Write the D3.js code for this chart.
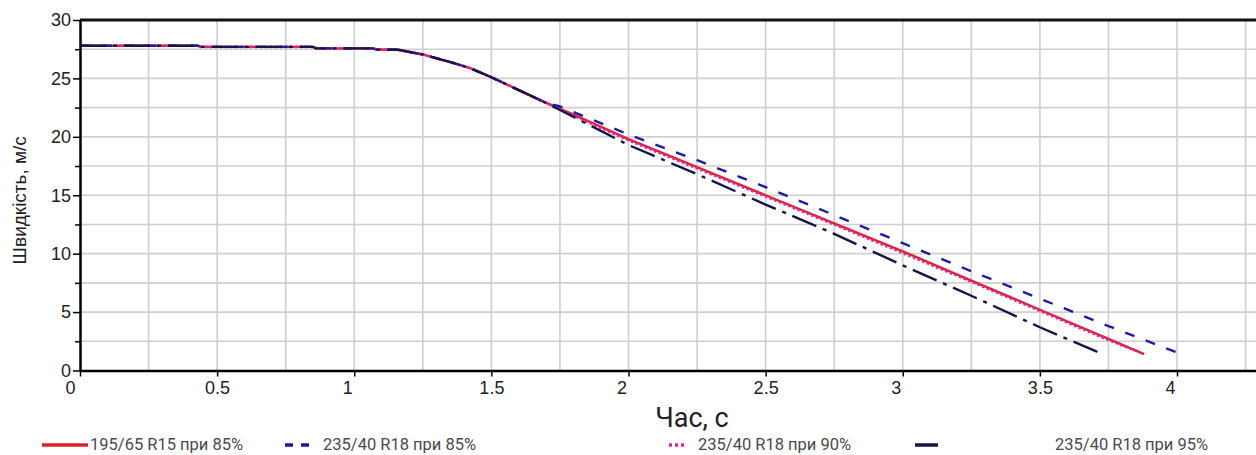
<!DOCTYPE html>
<html>
<head>
<meta charset="utf-8">
<script src="https://cdn.jsdelivr.net/npm/d3@7"></script>
<style>
	body { margin: 0; background: #fff; }
	svg { display: block; }
</style>
</head>
<body>
<div id="chart"></div>
<script>
// speed vs time while braking, one array per tyre / load case
let seriesNames = ["195/65 R15 при 85%", "235/40 R18 при 85%", "235/40 R18 при 90%", "235/40 R18 при 95%"]

// common part before the curves split (t, v)
let startT = [0, 0.43, 0.44, 0.85, 0.86, 1.07, 1.08, 1.16, 1.25, 1.35, 1.42, 1.5, 1.6, 1.7]
let startV = [27.8, 27.8, 27.7, 27.7, 27.57, 27.57, 27.47, 27.45, 27.05, 26.4, 25.9, 25.1, 24.0, 22.9]

let r15_85_t = [1.8, 2.0, 2.25, 2.5, 2.75, 3.0, 3.25, 3.5, 3.75, 3.88]
let r15_85_v = [21.9, 19.8, 17.4, 15.0, 12.6, 10.2, 7.7, 5.2, 2.7, 1.4]

let r18_85_t = [1.75, 2.0, 2.25, 2.5, 2.75, 3.0, 3.25, 3.5, 3.75, 4.01]
let r18_85_v = [22.6, 20.2, 18.0, 15.7, 13.3, 10.9, 8.5, 6.15, 3.8, 1.45]

let r18_90_t = [1.8, 2.0, 2.25, 2.5, 2.75, 3.0, 3.25, 3.5, 3.75, 3.86]
let r18_90_v = [21.8, 19.7, 17.3, 14.9, 12.5, 10.05, 7.6, 5.1, 2.6, 1.6]

let r18_95_t = [1.75, 2.0, 2.25, 2.5, 2.75, 3.0, 3.25, 3.5, 3.73]
let r18_95_v = [22.3, 19.3, 16.8, 14.2, 11.7, 9.0, 6.4, 3.7, 1.4]

let xTicks = [0, 0.5, 1, 1.5, 2, 2.5, 3, 3.5, 4]
let yTicks = d3.range(0, 30.1, 2.5)

function points(t, v)
{
	let p = []
	for (let i = 0; i < startT.length; ++i) p.push([startT[i], startV[i]])
	for (let i = 0; i < t.length; ++i) p.push([t[i], v[i]])
	return p
}

let width = 1256
let height = 455
let mLeft = 80, mTop = 20, mRight = 1256, mBottom = 370.5

let svg = d3.select("#chart").append("svg")
	.attr("width", width)
	.attr("height", height)

let x = d3.scaleLinear().domain([0, 4.288]).range([mLeft, mRight])
let y = d3.scaleLinear().domain([0, 30]).range([mBottom, mTop])

// grid
let gx = d3.range(0.25, 4.26, 0.25)
let gy = d3.range(2.5, 30, 2.5)
svg.append("g").selectAll("line").data(gx).join("line")
	.attr("x1", d => x(d)).attr("x2", d => x(d))
	.attr("y1", mTop).attr("y2", mBottom)
	.attr("stroke", "#cfcfcf").attr("stroke-width", 1.6)
svg.append("g").selectAll("line").data(gy).join("line")
	.attr("x1", mLeft).attr("x2", mRight)
	.attr("y1", d => y(d)).attr("y2", d => y(d))
	.attr("stroke", "#cfcfcf").attr("stroke-width", 1.6)

// series styles
let red = { name: seriesNames[0], pts: points(r15_85_t, r15_85_v), color: "#e0202c", dash: null, w: 2.4 }
let blue = { name: seriesNames[1], pts: points(r18_85_t, r18_85_v), color: "#1c1ca0", dash: "10,12", w: 2.4 }
let pink = { name: seriesNames[2], pts: points(r18_90_t, r18_90_v), color: "#e0239a", dash: "2.5,2.5", w: 2.6 }
let navy = { name: seriesNames[3], pts: points(r18_95_t, r18_95_v), color: "#15154a", dash: "26,7,4,7", w: 2.4 }

// navy on top, red at the bottom
let line = d3.line().x(d => x(d[0])).y(d => y(d[1]))
for (let s of [red, pink, blue, navy])
{
	svg.append("path")
		.attr("d", line(s.pts))
		.attr("fill", "none")
		.attr("stroke", s.color)
		.attr("stroke-width", s.w)
		.attr("stroke-dasharray", s.dash)
}

// axes
let yAxis = d3.axisLeft(y).tickValues(yTicks)
	.tickSize(6).tickSizeOuter(0).tickPadding(3)
	.tickFormat(d => d % 5 == 0 ? d : "")
let ga = svg.append("g").attr("transform", `translate(${mLeft},0)`).call(yAxis)
ga.select(".domain").attr("stroke", "#000").attr("stroke-width", 2.5)
ga.selectAll(".tick line").attr("stroke", "#000").attr("stroke-width", 1.5)
	.attr("x2", d => d % 5 == 0 ? -7 : -5)
ga.selectAll("text").attr("font-family", "Liberation Sans, Arial, sans-serif")
	.attr("font-size", 18).attr("fill", "#222")

let xAxis = d3.axisBottom(x).tickValues(xTicks).tickSize(6).tickSizeOuter(0).tickPadding(5)
	.tickFormat(d => d)
let gb = svg.append("g").attr("transform", `translate(0,${mBottom})`).call(xAxis)
gb.select(".domain").attr("stroke", "#000").attr("stroke-width", 2.5)
gb.selectAll(".tick line").attr("stroke", "#000").attr("stroke-width", 1.5)
gb.selectAll("text").attr("font-family", "Liberation Sans, Arial, sans-serif")
	.attr("font-size", 18).attr("fill", "#222")
	.attr("dx", d => Number.isInteger(d) ? (d == 0 ? -10 : -7) : 0)

// top frame
svg.append("line")
	.attr("x1", mLeft).attr("x2", mRight)
	.attr("y1", mTop).attr("y2", mTop)
	.attr("stroke", "#111").attr("stroke-width", 3)

// titles
svg.append("text")
	.attr("transform", `translate(26,${(mTop + mBottom) / 2 + 5}) rotate(-90)`)
	.attr("text-anchor", "middle")
	.attr("font-family", "Liberation Sans, Arial, sans-serif")
	.attr("font-size", 19)
	.attr("fill", "#222")
	.text("Швидкість, м/с")

svg.append("text")
	.attr("x", 692).attr("y", 427)
	.attr("text-anchor", "middle")
	.attr("font-family", "Roboto, sans-serif")
	.attr("font-size", 27)
	.attr("fill", "#222")
	.text("Час, с")

// legend
let legend = [
	{ s: red, x1: 42, x2: 88, tx: 90, dash: null },
	{ s: blue, x1: 285, x2: 310, tx: 323, dash: "8,8" },
	{ s: pink, x1: 669, x2: 687, tx: 698, dash: "3,3" },
	{ s: navy, x1: 915, x2: 938, tx: 1055, dash: null }
]
let ly = 445
for (let l of legend)
{
	svg.append("line")
		.attr("x1", l.x1).attr("x2", l.x2)
		.attr("y1", ly).attr("y2", ly)
		.attr("stroke", l.s.color)
		.attr("stroke-width", 3.5)
		.attr("stroke-dasharray", l.dash)
	svg.append("text")
		.attr("x", l.tx).attr("y", ly + 5)
		.attr("font-family", "Roboto, sans-serif")
		.attr("font-size", 16.5)
		.attr("fill", "#4a4a4a")
		.text(l.s.name)
}
</script>
</body>
</html>
